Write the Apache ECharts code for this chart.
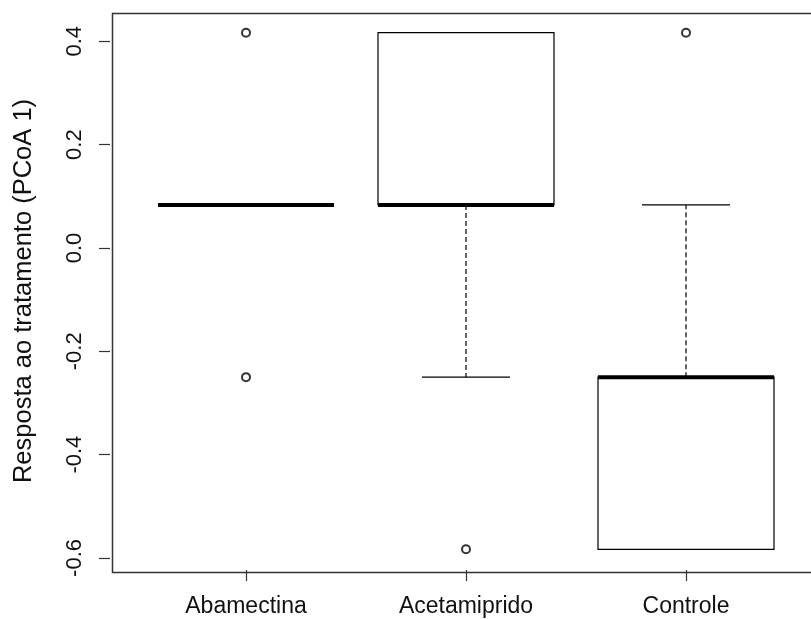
<!DOCTYPE html>
<html>
<head>
<meta charset="utf-8">
<script src="https://cdn.jsdelivr.net/npm/echarts@6/dist/echarts.min.js"></script>
<style>
html,body{margin:0;padding:0;background:#fff;}
#chart{width:811px;height:619px;}
</style>
</head>
<body>
<div id="chart"></div>
<script>
// Data
var categories = ['Abamectina', 'Acetamiprido', 'Controle'];
var boxMin    = [0.0833, -0.25,   -0.5833];
var boxQ1     = [0.0833,  0.0833, -0.5833];
var boxMedian = [0.0833,  0.0833, -0.25];
var boxQ3     = [0.0833,  0.4167, -0.25];
var boxMax    = [0.0833,  0.4167,  0.0833];
var outlierGroup = ['Abamectina', 'Abamectina', 'Acetamiprido', 'Controle'];
var outlierValue = [0.4167, -0.25, -0.5833, 0.4167];
var yTicks = [-0.6, -0.4, -0.2, 0.0, 0.2, 0.4];
var yTitle = 'Resposta ao tratamento (PCoA 1)';

var FONT = '"Liberation Sans", Arial, sans-serif';

var boxData = categories.map(function (c, i) {
  return [i, boxMin[i], boxQ1[i], boxMedian[i], boxQ3[i], boxMax[i]];
});
var outlierData = outlierGroup.map(function (g, i) {
  return [categories.indexOf(g), outlierValue[i]];
});

function renderBox(params, api) {
  var idx = api.value(0);
  var band = api.size([1, 0])[0];
  var half = band * 0.8 / 2;
  var stapleHalf = half / 2;
  var pMin = api.coord([idx, api.value(1)]);
  var pQ1 = api.coord([idx, api.value(2)]);
  var pMed = api.coord([idx, api.value(3)]);
  var pQ3 = api.coord([idx, api.value(4)]);
  var pMax = api.coord([idx, api.value(5)]);
  var cx = pMed[0];
  var children = [];
  var dash = { stroke: '#000', lineWidth: 1.2, lineDash: [5, 3] };
  var solid = { stroke: '#000', lineWidth: 1.2 };
  children.push({ type: 'line', shape: { x1: cx, y1: pQ1[1], x2: cx, y2: pMin[1] }, style: dash });
  children.push({ type: 'line', shape: { x1: cx, y1: pQ3[1], x2: cx, y2: pMax[1] }, style: dash });
  children.push({ type: 'line', shape: { x1: cx - stapleHalf, y1: pMin[1], x2: cx + stapleHalf, y2: pMin[1] }, style: solid });
  children.push({ type: 'line', shape: { x1: cx - stapleHalf, y1: pMax[1], x2: cx + stapleHalf, y2: pMax[1] }, style: solid });
  children.push({ type: 'rect', shape: { x: cx - half, y: pQ3[1], width: half * 2, height: pQ1[1] - pQ3[1] },
    style: { fill: '#fff', stroke: '#000', lineWidth: 1.2 } });
  children.push({ type: 'line', shape: { x1: cx - half, y1: pMed[1], x2: cx + half, y2: pMed[1] },
    style: { stroke: '#000', lineWidth: 4, lineCap: 'butt' } });
  return { type: 'group', children: children };
}

var chart = echarts.init(document.getElementById('chart'));
chart.setOption({
  animation: false,
  backgroundColor: '#fff',
  grid: { left: 136, right: 15, top: 12, bottom: 49, containLabel: false },
  xAxis: {
    type: 'category',
    data: categories,
    boundaryGap: true,
    axisLine: { show: false, onZero: false },
    axisTick: { show: true, alignWithLabel: true, length: 11, lineStyle: { color: '#333', width: 1.2 } },
    axisLabel: { color: '#111', fontSize: 23, fontFamily: FONT, margin: 25 },
    splitLine: { show: false }
  },
  yAxis: {
    type: 'value',
    min: -0.6233,
    max: 0.4567,
    offset: 26,
    axisLine: { show: false },
    axisTick: { show: true, length: 11, customValues: yTicks, lineStyle: { color: '#333', width: 1.2 } },
    axisLabel: {
      customValues: yTicks, rotate: 90, color: '#111', fontSize: 22, fontFamily: FONT, margin: 24,
      formatter: function (v) { return Number(v).toFixed(1); }
    },
    splitLine: { show: false },
    name: yTitle,
    nameLocation: 'middle',
    nameRotate: 90,
    nameGap: 73,
    nameTextStyle: { color: '#111', fontSize: 25.5, fontFamily: FONT }
  },
  graphic: [{
    type: 'rect', left: 110, top: 11, z: 100, silent: true,
    shape: { x: 0, y: 0, width: 713, height: 559 },
    style: { fill: 'none', stroke: '#333', lineWidth: 1.5 }
  }],
  series: [
    { type: 'custom', renderItem: renderBox, data: boxData, encode: { x: 0, y: [1, 2, 3, 4, 5] }, z: 2 },
    { type: 'scatter', data: outlierData, symbol: 'emptyCircle', symbolSize: 8,
      itemStyle: { color: '#000', borderColor: '#000', borderWidth: 1.2 }, z: 3 }
  ]
});
</script>
</body>
</html>
